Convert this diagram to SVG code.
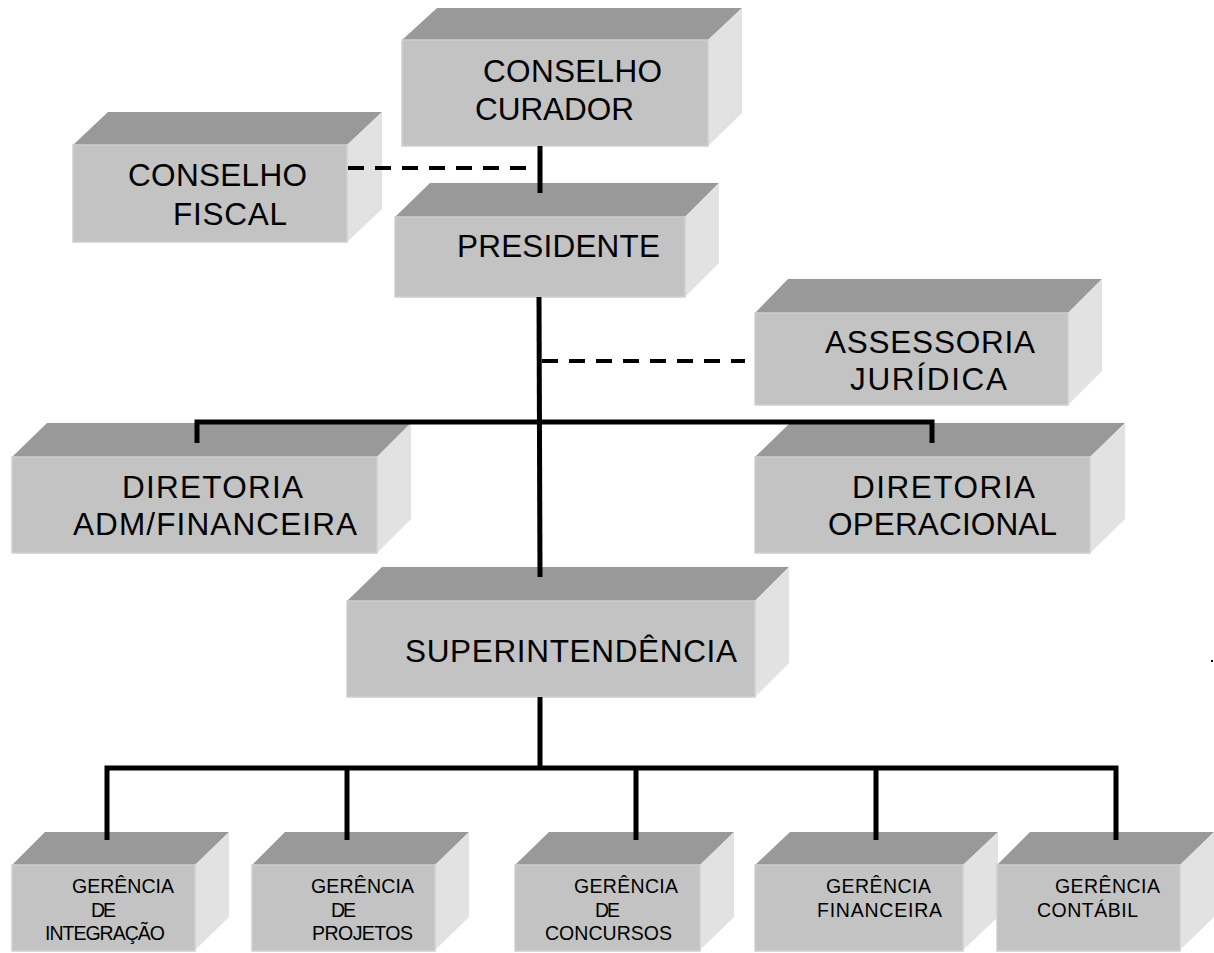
<svg xmlns="http://www.w3.org/2000/svg" width="1214" height="953" viewBox="0 0 1214 953">
<style>
.top{fill:#999999}
.front{fill:#c3c3c3;stroke:#d0d0d0;stroke-width:1.5}
.side{fill:#e2e2e2}
.t{font-family:"Liberation Sans",Arial,sans-serif;fill:#000;font-size:31.5px}
.s{font-family:"Liberation Sans",Arial,sans-serif;fill:#000;font-size:19.5px}
.ln{fill:none;stroke:#000;stroke-width:5;stroke-linejoin:miter;stroke-linecap:butt}
.dash{fill:none;stroke:#000;stroke-width:4;stroke-dasharray:16 11}
</style>
<rect width="1214" height="953" fill="#fff"/>
<g id="conselho-curador">
<polygon class="top" points="402,40 437,8 742,8 708,40"/>
<polygon class="side" points="708,40 742,8 742,113 708,146"/>
<rect class="front" x="402" y="40" width="306" height="106"/>
<text class="t" x="483" y="82" textLength="179" lengthAdjust="spacing">CONSELHO</text>
<text class="t" x="475" y="120" textLength="159" lengthAdjust="spacing">CURADOR</text>
</g>
<g id="conselho-fiscal">
<polygon class="top" points="73,145 108,112 382,112 347,145"/>
<polygon class="side" points="347,145 382,112 382,209 347,242"/>
<rect class="front" x="73" y="145" width="274" height="97"/>
<text class="t" x="128" y="186" textLength="179" lengthAdjust="spacing">CONSELHO</text>
<text class="t" x="173" y="225" textLength="114" lengthAdjust="spacing">FISCAL</text>
</g>
<g id="presidente">
<polygon class="top" points="395,217 430,183 719,183 685,217"/>
<polygon class="side" points="685,217 719,183 719,263 685,297"/>
<rect class="front" x="395" y="217" width="290" height="80"/>
<text class="t" x="457" y="257" textLength="203" lengthAdjust="spacing">PRESIDENTE</text>
</g>
<g id="assessoria-juridica">
<polygon class="top" points="755,313 788,279 1102,279 1068,313"/>
<polygon class="side" points="1068,313 1102,279 1102,371 1068,405"/>
<rect class="front" x="755" y="313" width="313" height="92"/>
<text class="t" x="825" y="353" textLength="210" lengthAdjust="spacing">ASSESSORIA</text>
<text class="t" x="850" y="390" textLength="157" lengthAdjust="spacing">JURÍDICA</text>
</g>
<g id="diretoria-adm">
<polygon class="top" points="12,457 47,423 411,423 377,457"/>
<polygon class="side" points="377,457 411,423 411,519 377,553"/>
<rect class="front" x="12" y="457" width="365" height="96"/>
<text class="t" x="122" y="498" textLength="181" lengthAdjust="spacing">DIRETORIA</text>
<text class="t" x="73" y="535" textLength="284" lengthAdjust="spacing">ADM/FINANCEIRA</text>
</g>
<g id="diretoria-operacional">
<polygon class="top" points="755,457 790,423 1125,423 1090,457"/>
<polygon class="side" points="1090,457 1125,423 1125,519 1090,553"/>
<rect class="front" x="755" y="457" width="335" height="96"/>
<text class="t" x="852" y="498" textLength="183" lengthAdjust="spacing">DIRETORIA</text>
<text class="t" x="828" y="535" textLength="229" lengthAdjust="spacing">OPERACIONAL</text>
</g>
<g id="superintendencia">
<polygon class="top" points="347,601 382,567 789,567 755,601"/>
<polygon class="side" points="755,601 789,567 789,663 755,697"/>
<rect class="front" x="347" y="601" width="408" height="96"/>
<text class="t" x="405" y="662" textLength="332" lengthAdjust="spacing">SUPERINTENDÊNCIA</text>
</g>
<g id="gerencia-integracao">
<polygon class="top" points="12,865 45,832 229,832 195,865"/>
<polygon class="side" points="195,865 229,832 229,917 195,950"/>
<rect class="front" x="12" y="865" width="183" height="86"/>
<text class="s" x="72" y="893" textLength="102" lengthAdjust="spacing">GERÊNCIA</text>
<text class="s" x="91" y="917" textLength="25" lengthAdjust="spacing">DE</text>
<text class="s" x="45" y="940" textLength="120" lengthAdjust="spacing">INTEGRAÇÃO</text>
</g>
<g id="gerencia-projetos">
<polygon class="top" points="252,865 285,832 469,832 435,865"/>
<polygon class="side" points="435,865 469,832 469,917 435,950"/>
<rect class="front" x="252" y="865" width="183" height="86"/>
<text class="s" x="311" y="893" textLength="103" lengthAdjust="spacing">GERÊNCIA</text>
<text class="s" x="331" y="917" textLength="25" lengthAdjust="spacing">DE</text>
<text class="s" x="312" y="940" textLength="101" lengthAdjust="spacing">PROJETOS</text>
</g>
<g id="gerencia-concursos">
<polygon class="top" points="515,865 549,832 734,832 700,865"/>
<polygon class="side" points="700,865 734,832 734,917 700,950"/>
<rect class="front" x="515" y="865" width="185" height="86"/>
<text class="s" x="574" y="893" textLength="104" lengthAdjust="spacing">GERÊNCIA</text>
<text class="s" x="595" y="917" textLength="25" lengthAdjust="spacing">DE</text>
<text class="s" x="545" y="940" textLength="127" lengthAdjust="spacing">CONCURSOS</text>
</g>
<g id="gerencia-financeira">
<polygon class="top" points="755,865 790,832 998,832 963,865"/>
<polygon class="side" points="963,865 998,832 998,917 963,950"/>
<rect class="front" x="755" y="865" width="208" height="86"/>
<text class="s" x="826" y="893" textLength="105" lengthAdjust="spacing">GERÊNCIA</text>
<text class="s" x="817" y="917" textLength="125" lengthAdjust="spacing">FINANCEIRA</text>
</g>
<g id="gerencia-contabil">
<polygon class="top" points="997,865 1030,832 1214,832 1180,865"/>
<polygon class="side" points="1180,865 1214,832 1214,917 1180,950"/>
<rect class="front" x="997" y="865" width="183" height="86"/>
<text class="s" x="1055" y="893" textLength="105" lengthAdjust="spacing">GERÊNCIA</text>
<text class="s" x="1037" y="917" textLength="101" lengthAdjust="spacing">CONTÁBIL</text>
</g>
<g id="connectors">
<line class="ln" x1="540" y1="146" x2="540" y2="193"/>
<line class="dash" x1="348" y1="168" x2="537" y2="168"/>
<line class="ln" x1="539" y1="297" x2="540" y2="577"/>
<line class="dash" x1="542" y1="361" x2="745" y2="361"/>
<path class="ln" d="M197,443 V422 H932 V443"/>
<line class="ln" x1="540" y1="697" x2="540" y2="768"/>
<path class="ln" d="M107,840 V768 H1116 V840"/>
<line class="ln" x1="347" y1="768" x2="347" y2="840"/>
<line class="ln" x1="636" y1="768" x2="636" y2="840"/>
<line class="ln" x1="876" y1="768" x2="876" y2="840"/>
</g>
<rect x="1211" y="660" width="2" height="2" fill="#000"/>
</svg>
